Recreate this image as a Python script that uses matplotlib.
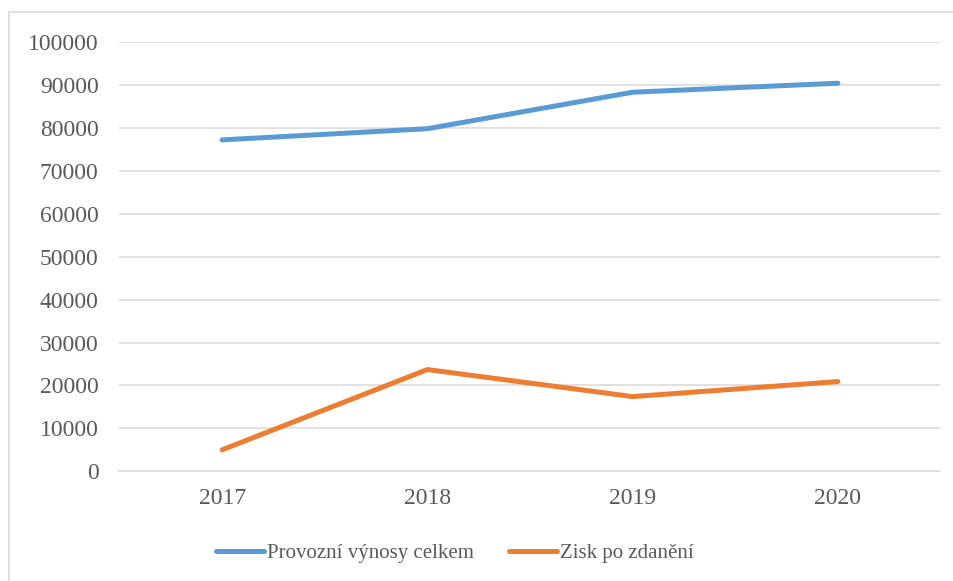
import matplotlib.pyplot as plt
from matplotlib.patches import Rectangle

years = ['2017', '2018', '2019', '2020']
vynosy = [77200, 79800, 88300, 90400]
zisk = [5000, 23700, 17400, 20900]
yticks = list(range(0, 100001, 10000))

plt.rcParams['font.family'] = ['Liberation Serif', 'DejaVu Serif']

W, H = 954, 581
fig = plt.figure(figsize=(W / 100, H / 100), dpi=100)

# outer chart border (right/bottom edges run off the picture)
fig.patches.append(Rectangle((9 / W, -0.05), 1.1, 1 - 12 / H + 0.05,
                             transform=fig.transFigure, fill=False,
                             edgecolor='#D9D9D9', linewidth=1.2))

ax = fig.add_axes([119.5 / W, 109.7 / H, 821 / W, 429.3 / H])
x = range(len(years))
ax.plot(x, vynosy, color='#5B9BD5', linewidth=3.6, solid_capstyle='round',
        solid_joinstyle='round', label='Provozní výnosy celkem', zorder=3)
ax.plot(x, zisk, color='#ED7D31', linewidth=3.6, solid_capstyle='round',
        solid_joinstyle='round', label='Zisk po zdanění', zorder=3)

ax.set_xlim(-0.5, len(years) - 0.5)
ax.set_ylim(0, 100000)
ax.set_xticks(list(x))
ax.set_xticklabels(years)
ax.set_yticks(yticks)
ax.set_yticklabels([str(v) for v in yticks])

ax.grid(axis='y', color='#D9D9D9', linewidth=1.1)
ax.set_axisbelow(True)
for s in ['top', 'right', 'left']:
    ax.spines[s].set_visible(False)
ax.spines['bottom'].set_color('#D9D9D9')
ax.spines['bottom'].set_linewidth(1.1)
ax.tick_params(length=0, labelsize=17, colors='#595959')
ax.tick_params(axis='y', pad=15)
ax.tick_params(axis='x', pad=12)

handles, labels = ax.get_legend_handles_labels()
leg = fig.legend(handles, labels, loc='center', ncol=2,
                 bbox_to_anchor=(455 / W, 1 - 553 / H), frameon=False,
                 fontsize=15, handlelength=2.3, handletextpad=0.15,
                 columnspacing=1.7)
for t in leg.get_texts():
    t.set_color('#595959')

fig.savefig('out.png', dpi=100)
